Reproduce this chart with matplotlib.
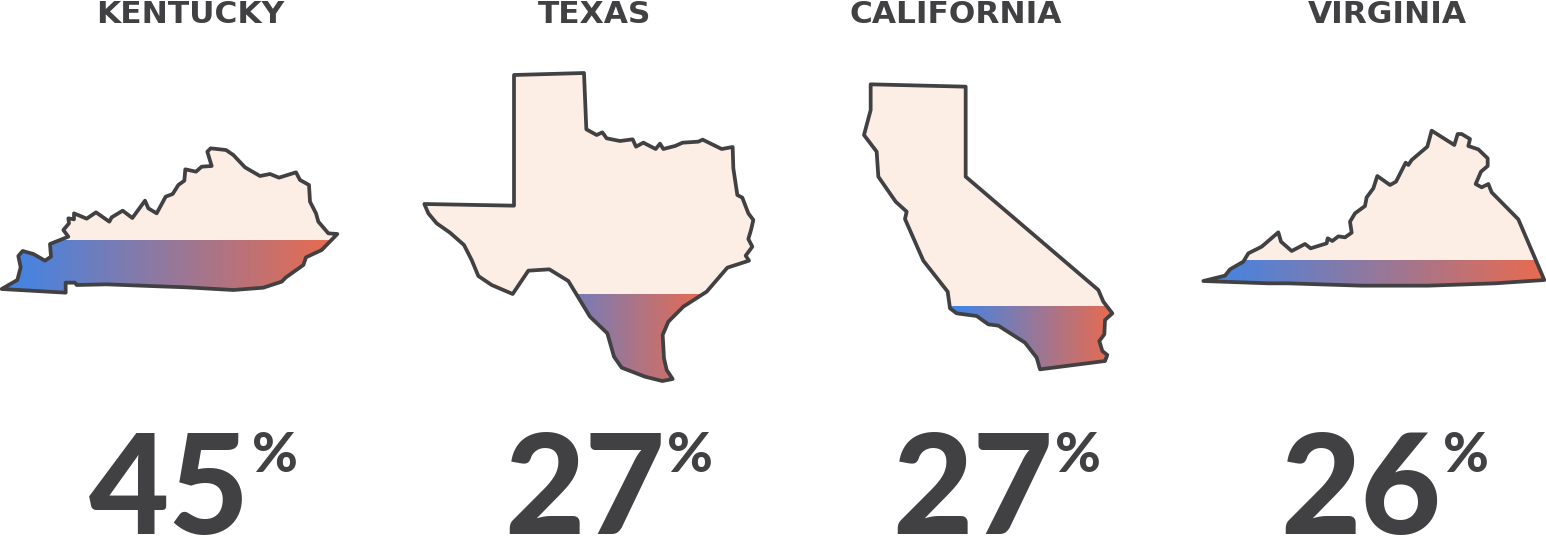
import numpy as np
import matplotlib
matplotlib.use('Agg')
import matplotlib.pyplot as plt
from matplotlib.colors import LinearSegmentedColormap
from matplotlib.patches import Polygon

states = ['KENTUCKY', 'TEXAS', 'CALIFORNIA', 'VIRGINIA']
values = [45, 27, 27, 26]

# outlines, in the units of each state's own box (1/3 px)
ky_x = [5, 52, 62, 55, 68, 100, 135, 153, 150, 205, 190, 207, 205, 222, 222, 260, 288, 328, 335, 368, 397, 435, 445, 470, 497, 518, 535, 553, 556, 588, 605, 635, 622, 632, 678, 700, 735, 780, 810, 837, 888, 900, 927, 930, 948, 955, 985, 1012, 965, 918, 910, 858, 845, 790, 700, 560, 450, 320, 230, 225, 197, 197]
ky_y = [477, 450, 412, 378, 363, 372, 392, 380, 342, 320, 300, 280, 265, 268, 250, 266, 247, 275, 262, 242, 264, 212, 235, 250, 200, 192, 165, 152, 118, 125, 110, 108, 65, 55, 60, 75, 112, 138, 132, 143, 127, 150, 165, 215, 250, 275, 310, 312, 360, 382, 405, 442, 455, 473, 480, 472, 468, 463, 465, 458, 458, 488]

tx_x = [297, 507, 514, 545, 562, 575, 615, 653, 663, 685, 722, 735, 745, 780, 803, 850, 863, 920, 953, 955, 967, 982, 1000, 1015, 1008, 1000, 1012, 992, 1002, 937, 875, 805, 760, 743, 747, 755, 773, 742, 690, 620, 597, 577, 525, 460, 403, 340, 293, 230, 190, 170, 147, 105, 65, 40, 28, 297]
tx_y = [30, 24, 193, 210, 202, 220, 228, 223, 245, 233, 252, 236, 252, 243, 233, 230, 224, 252, 246, 310, 390, 398, 445, 465, 495, 522, 545, 572, 587, 608, 680, 725, 770, 810, 880, 915, 942, 948, 935, 908, 875, 805, 755, 648, 613, 617, 687, 660, 633, 585, 540, 503, 475, 445, 417, 422]

ca_x = [47, 332, 332, 730, 745, 772, 750, 748, 733, 742, 757, 750, 555, 545, 510, 430, 400, 365, 305, 285, 278, 205, 150, 155, 122, 70, 65, 27, 47]
ca_y = [28, 35, 305, 645, 680, 715, 735, 778, 798, 828, 840, 858, 883, 848, 803, 752, 748, 723, 715, 700, 650, 557, 432, 410, 380, 305, 230, 180, 105]

va_x = [25, 90, 105, 145, 160, 200, 250, 258, 290, 330, 347, 395, 398, 412, 430, 450, 470, 465, 480, 510, 515, 535, 547, 585, 603, 632, 640, 650, 697, 710, 778, 788, 800, 825, 820, 850, 878, 878, 858, 842, 860, 880, 890, 970, 1048, 900, 700, 500, 280, 220]
va_y = [483, 467, 448, 425, 400, 380, 337, 365, 393, 372, 385, 370, 355, 363, 349, 352, 338, 305, 280, 258, 232, 205, 168, 195, 185, 128, 135, 120, 80, 32, 75, 42, 42, 57, 78, 88, 115, 138, 155, 192, 202, 192, 217, 298, 480, 490, 497, 497, 490, 490]

outlines = [(ky_x, ky_y), (tx_x, tx_y), (ca_x, ca_y), (va_x, va_y)]

# where each box starts and where the gradient begins, in pixels
origins = [(0, 130), (415, 65), (855, 75), (1195, 120)]
levels = [240, 294, 307, 260]
title_x = [190, 595, 956, 1387]
number_right = [250, 665, 1053, 1441]

dark = '#414042'
fill = '#FDEEE5'
cmap = LinearSegmentedColormap.from_list('blue_red', ['#3D85EA', '#E96B4F'])
gradient = np.linspace(0, 1, 256).reshape(1, -1)


def fill_range(x, y, level):
    # left and right end of the part of the shape under the level
    xs = [a for a, b in zip(x, y) if b >= level]
    for i in range(len(x)):
        x1, y1, x2, y2 = x[i - 1], y[i - 1], x[i], y[i]
        if (y1 - level) * (y2 - level) < 0:
            xs.append(x1 + (level - y1) / (y2 - y1) * (x2 - x1))
    return min(xs), max(xs)


fig = plt.figure(figsize=(15.46, 5.37), dpi=100)
ax = fig.add_axes([0, 0, 1, 1])

for i in range(4):
    x = np.array(outlines[i][0]) / 3 + origins[i][0]
    y = np.array(outlines[i][1]) / 3 + origins[i][1]
    xy = np.column_stack([x, y])

    ax.add_patch(Polygon(xy, closed=True, facecolor=fill, edgecolor='none', zorder=1))

    x0, x1 = fill_range(x, y, levels[i])
    im = ax.imshow(gradient, cmap=cmap, aspect='auto', zorder=2, interpolation='bilinear',
                   extent=(x0, x1, y.max(), levels[i]))
    im.set_clip_path(Polygon(xy, closed=True, transform=ax.transData))

    ax.add_patch(Polygon(xy, closed=True, facecolor='none', edgecolor=dark, linewidth=2.7,
                         joinstyle='round', zorder=3))

    ax.text(title_x[i], 23, states[i], ha='center', va='baseline', color=dark,
            fontsize=22.5, fontweight='bold', family='DejaVu Sans')
    ax.text(number_right[i], 534, str(values[i]), ha='right', va='baseline', color=dark,
            fontsize=100, fontweight='black', family='Lato')
    ax.text(number_right[i] + 2, 472, '%', ha='left', va='baseline', color=dark,
            fontsize=40, fontweight='black', family='Lato')

ax.set_xlim(0, 1546)
ax.set_ylim(537, 0)
ax.axis('off')

fig.savefig('out.png', dpi=100, facecolor='white')
